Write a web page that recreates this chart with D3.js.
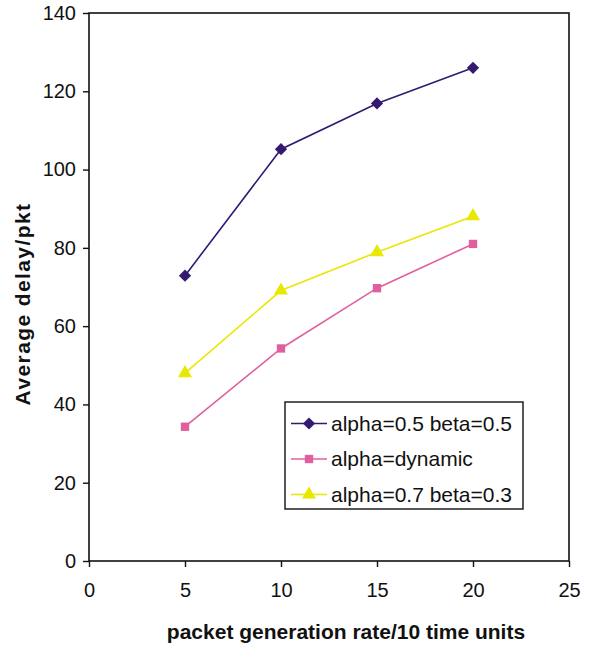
<!DOCTYPE html>
<html lang="en">
<head>
  <meta charset="UTF-8">
  <title>Average delay per packet</title>
  <script src="https://d3js.org/d3.v7.min.js"></script>
  <style>
    body {
      margin: 0;
      background: #fff;
      font-family: "Liberation Sans", Arial, sans-serif;
    }
    .tick text {
      font-size: 20px;
      fill: #111;
    }
    .title {
      font-size: 21px;
      font-weight: bold;
      fill: #111;
    }
    .legend text {
      font-size: 21px;
      fill: #111;
    }
  </style>
</head>
<body>
  <div id="chart"></div>

  <script>
    const rates = [5, 10, 15, 20];
    const seriesNames = ["alpha=0.5 beta=0.5", "alpha=dynamic", "alpha=0.7 beta=0.3"];
    const fixedHalf = [72.9, 105.2, 116.9, 126.0];
    const dynamic = [34.3, 54.3, 69.7, 81.0];
    const fixed73 = [48.0, 69.1, 78.9, 88.1];
    const xTicks = [0, 5, 10, 15, 20, 25];
    const yTicks = [0, 20, 40, 60, 80, 100, 120, 140];

    const series = [
      {name: seriesNames[0], values: fixedHalf, color: "#331a70", symbol: d3.symbolDiamond2, size: 95},
      {name: seriesNames[1], values: dynamic, color: "#e0609f", symbol: d3.symbolSquare, size: 70},
      {name: seriesNames[2], values: fixed73, color: "#e8e800", symbol: d3.symbolTriangle, size: 85}
    ];

    const W = 592, H = 647;
    const m = {left: 89, right: 569, top: 13, bottom: 561};

    const svg = d3.select("#chart")
      .append("svg")
      .attr("width", W)
      .attr("height", H);

    const x = d3.scaleLinear().domain([0, 25]).range([m.left, m.right]);
    const y = d3.scaleLinear().domain([0, 140]).range([m.bottom, m.top]);

    // frame
    svg.append("rect")
      .attr("x", m.left).attr("y", m.top)
      .attr("width", m.right - m.left).attr("height", m.bottom - m.top)
      .attr("fill", "none").attr("stroke", "#111").attr("stroke-width", 1.6);

    const xAxis = svg.append("g")
      .attr("transform", `translate(0,${m.bottom})`)
      .call(d3.axisBottom(x).tickValues(xTicks).tickSize(6).tickPadding(16));
    const yAxis = svg.append("g")
      .attr("transform", `translate(${m.left},0)`)
      .call(d3.axisLeft(y).tickValues(yTicks).tickSize(6).tickPadding(7));
    [xAxis, yAxis].forEach(g => {
      g.select(".domain").remove();
      g.selectAll(".tick line").attr("stroke", "#111").attr("stroke-width", 1.4);
    });
    // axis groups carry their own font attrs; clear them so CSS applies
    svg.selectAll("g").attr("font-family", null).attr("font-size", null);

    svg.append("text")
      .attr("class", "title")
      .attr("x", 346).attr("y", 639)
      .attr("text-anchor", "middle")
      .text("packet generation rate/10 time units");

    svg.append("text")
      .attr("class", "title")
      .attr("transform", "translate(30,304) rotate(-90)")
      .attr("text-anchor", "middle")
      .attr("letter-spacing", 1.4)
      .text("Average delay/pkt");

    const line = d3.line()
      .x((d, i) => x(rates[i]))
      .y(d => y(d));

    series.forEach(s => {
      svg.append("path")
        .datum(s.values)
        .attr("fill", "none")
        .attr("stroke", s.color)
        .attr("stroke-width", 1.6)
        .attr("d", line);
      svg.selectAll(null)
        .data(s.values)
        .join("path")
        .attr("transform", (d, i) => `translate(${x(rates[i])},${y(d)})`)
        .attr("d", d3.symbol().type(s.symbol).size(s.size))
        .attr("fill", s.color);
    });

    // legend
    const lg = svg.append("g").attr("class", "legend");
    lg.append("rect")
      .attr("x", 285).attr("y", 402)
      .attr("width", 238).attr("height", 107)
      .attr("fill", "#fff").attr("stroke", "#111").attr("stroke-width", 1.4);

    series.forEach((s, i) => {
      const yy = 423.5 + i * 35.5;
      lg.append("line")
        .attr("x1", 291).attr("x2", 327)
        .attr("y1", yy).attr("y2", yy)
        .attr("stroke", s.color).attr("stroke-width", 1.6);
      lg.append("path")
        .attr("transform", `translate(309,${yy})`)
        .attr("d", d3.symbol().type(s.symbol).size(s.size))
        .attr("fill", s.color);
      lg.append("text")
        .attr("x", 331).attr("y", yy + 7)
        .text(s.name);
    });
  </script>
</body>
</html>
